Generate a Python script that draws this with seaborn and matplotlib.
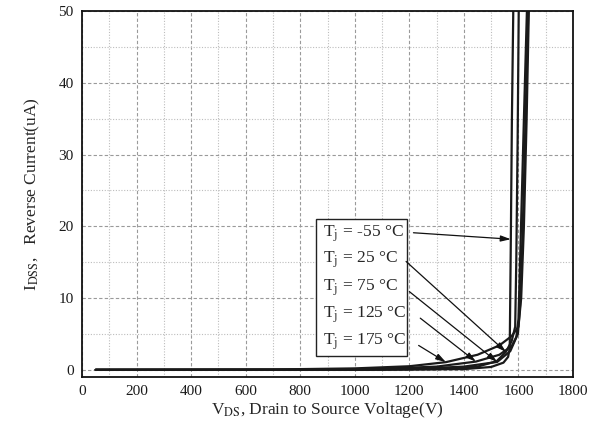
import numpy as np
import pandas as pd
import matplotlib
matplotlib.use("Agg")
import matplotlib.pyplot as plt
from matplotlib.patches import Rectangle
from matplotlib.ticker import MultipleLocator
import seaborn as sns

# ---- data ----
v_m55 = [50, 1000, 1400, 1500, 1545, 1562, 1568, 1572, 1576, 1581]
i_m55 = [0.0, 0.0, 0.1, 0.4, 1.0, 1.8, 3.0, 18.0, 35.0, 50.0]

v_25 = [50, 1000, 1300, 1450, 1520, 1554, 1575, 1588, 1592, 1597, 1601]
i_25 = [0.0, 0.0, 0.1, 0.45, 1.2, 2.5, 4.0, 6.0, 15.0, 32.0, 50.0]

v_75 = [50, 1000, 1200, 1400, 1522, 1570, 1592, 1600, 1608, 1620, 1631]
i_75 = [0.0, 0.02, 0.1, 0.45, 1.1, 2.6, 4.5, 7.0, 18.0, 35.0, 50.0]

v_125 = [50, 800, 1100, 1300, 1444, 1530, 1575, 1598, 1606, 1616, 1626, 1636]
i_125 = [0.0, 0.02, 0.15, 0.45, 1.15, 2.1, 3.3, 5.0, 9.0, 20.0, 35.0, 50.0]

v_175 = [50, 700, 1000, 1200, 1334, 1450, 1530, 1575, 1600, 1610, 1620, 1630, 1638]
i_175 = [0.0, 0.05, 0.2, 0.5, 1.07, 2.1, 3.4, 4.7, 6.0, 10.0, 20.0, 35.0, 50.0]

labels = ["-55", "25", "75", "125", "175"]
series = [(v_m55, i_m55), (v_25, i_25), (v_75, i_75), (v_125, i_125), (v_175, i_175)]

x_ticks = [0, 200, 400, 600, 800, 1000, 1200, 1400, 1600, 1800]
y_ticks = [0, 10, 20, 30, 40, 50]

frames = []
for lab, (v, i) in zip(labels, series):
    frames.append(pd.DataFrame({"V": v, "I": i, "T": lab}))
df = pd.concat(frames, ignore_index=True)

# ---- style ----
sns.set_style("white")
plt.rcParams["font.family"] = ["Liberation Serif", "DejaVu Serif"]
plt.rcParams["mathtext.fontset"] = "stix"

fig = plt.figure(figsize=(5.99, 4.36), dpi=100)
ax = fig.add_axes([0.137, 0.1353, 0.8196, 0.8395])

sns.lineplot(data=df, x="V", y="I", hue="T", units="T", estimator=None,
             sort=False, palette=["#1a1a1a"] * 5, linewidth=1.6,
             legend=False, ax=ax)

ax.set_xlim(0, 1800)
ax.set_ylim(-1, 50)
ax.set_xticks(x_ticks)
ax.set_yticks(y_ticks)
ax.xaxis.set_minor_locator(MultipleLocator(100))
ax.yaxis.set_minor_locator(MultipleLocator(5))
ax.grid(which="major", linestyle=(0, (3, 2)), color="#9a9a9a", linewidth=0.8)
ax.grid(which="minor", linestyle=(0, (1, 1.5)), color="#bdbdbd", linewidth=0.8)
ax.set_axisbelow(True)
ax.tick_params(which="both", length=0, labelsize=11, colors="#1a1a1a", pad=6)
for s in ax.spines.values():
    s.set_color("#111111")
    s.set_linewidth(1.3)

ax.set_xlabel(r"V$_{\mathrm{DS}}$, Drain to Source Voltage(V)", fontsize=12.5, labelpad=1)
ax.set_ylabel(r"I$_{\mathrm{DSS}}$,   Reverse Current(uA)", fontsize=12.5, labelpad=12)

# ---- annotation box ----
ax.add_patch(Rectangle((859, 1.95), 331, 19.05, fill=True, facecolor="white",
                       edgecolor="#222222", linewidth=1.0, zorder=4))
text_y = [19.0, 15.3, 11.4, 7.66, 3.94]
for lab, ty in zip(labels, text_y):
    ax.text(883, ty, r"T$_{\mathrm{j}}$ = " + lab + " \u00b0C", fontsize=12.5,
            va="center", ha="left", zorder=5)

arrow_start = [(1215, 19.1), (1188, 15.1), (1200, 10.9), (1240, 7.2), (1234, 3.4)]
arrow_end = [(1572, 18.2), (1554, 2.5), (1522, 1.1), (1444, 1.15), (1334, 1.07)]
for s, e in zip(arrow_start, arrow_end):
    ax.annotate("", xy=e, xytext=s,
                arrowprops=dict(arrowstyle="-|>,head_length=0.6,head_width=0.18",
                                color="#111111", lw=0.9, shrinkA=0, shrinkB=0),
                zorder=6)

fig.savefig("out.png", dpi=100)
